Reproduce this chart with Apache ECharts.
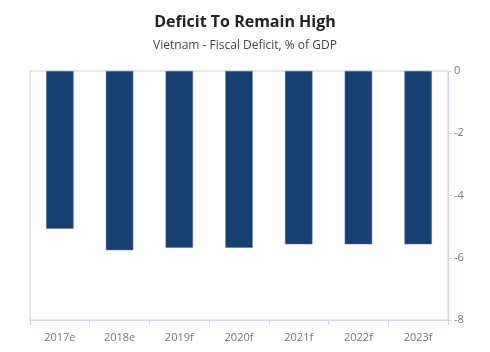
<!DOCTYPE html>
<html>
<head>
<meta charset="utf-8">
<script src="https://cdn.jsdelivr.net/npm/echarts@6/dist/echarts.min.js"></script>
<style>
	html, body { margin: 0; padding: 0; background: #fff; }
	#main { width: 490px; height: 352px; }
</style>
</head>
<body>
<div id="main"></div>
<script>
	// 数据
	var years = ['2017e', '2018e', '2019f', '2020f', '2021f', '2022f', '2023f'];
	var deficit = [-5.07, -5.76, -5.68, -5.68, -5.57, -5.57, -5.57];
	var yTicks = [0, -2, -4, -6, -8];

	var myChart = echarts.init(document.getElementById('main'));
	var option = {
		backgroundColor: '#fff',
		textStyle: { fontFamily: 'Open Sans' },
		title: {
			text: 'Deficit To Remain High',
			subtext: 'Vietnam - Fiscal Deficit, % of GDP',
			left: 'center',
			top: 9,
			itemGap: 10,
			textStyle: { fontFamily: 'Open Sans', fontSize: 16, fontWeight: 'bold', color: '#222' },
			subtextStyle: { fontFamily: 'Open Sans', fontSize: 12, color: '#444' }
		},
		grid: {
			left: 30, right: 42, top: 71, bottom: 32,
			show: true, borderColor: '#d0d0d0', borderWidth: 1
		},
		xAxis: {
			type: 'category',
			data: years,
			position: 'bottom',
			axisLine: { onZero: false, lineStyle: { color: '#ccd6eb' } },
			axisTick: { show: true, length: 5, lineStyle: { color: '#ccd6eb' } },
			axisLabel: { color: '#777', fontSize: 11, margin: 12 }
		},
		yAxis: {
			type: 'value',
			position: 'right',
			min: yTicks[yTicks.length - 1],
			max: yTicks[0],
			interval: 2,
			axisLine: { show: true, lineStyle: { color: '#ccd6eb' } },
			axisTick: { show: true, length: 4, lineStyle: { color: '#ccd6eb' } },
			splitLine: { show: false },
			axisLabel: { color: '#777', fontSize: 11, margin: 6 }
		},
		series: [{
			type: 'bar',
			data: deficit,
			barWidth: '46%',
			itemStyle: { color: '#183f72', borderColor: '#5a7aa3', borderWidth: 0.5 }
		}]
	};
	myChart.setOption(option);
</script>
</body>
</html>
